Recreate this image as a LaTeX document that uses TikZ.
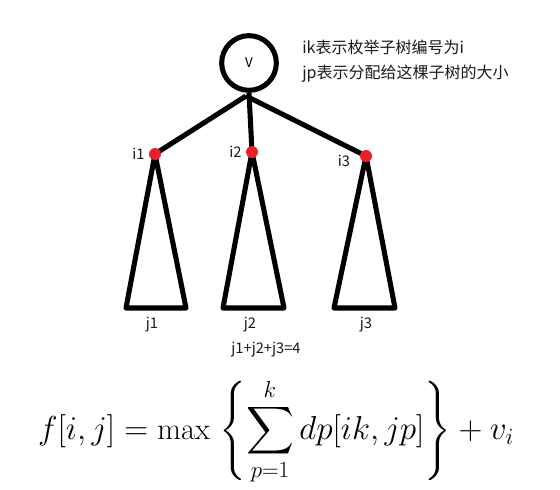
\documentclass[tikz,border=0pt]{standalone}
\usepackage{amsmath}
\usepackage{fontspec}
\newfontfamily\cjk{Noto Sans CJK SC}
\usepackage{tikz}
\usetikzlibrary{positioning,calc}
\definecolor{cdot}{HTML}{E8202A}
\definecolor{ctxt}{HTML}{1A1A1A}
\tikzset{
  root/.style={circle, draw=black, line width=3.8pt, minimum size=41pt, inner sep=0pt, font=\cjk\normalsize},
  edge/.style={line width=3.8pt, draw=black},
  tri/.style={line width=3.8pt, draw=black, line join=round},
  knot/.style={circle, fill=cdot, minimum size=9pt, inner sep=0pt},
  lbl/.style={font=\cjk\fontsize{11}{13}\selectfont, text=ctxt, inner sep=1pt},
  note/.style={font=\cjk\fontsize{12}{14}\selectfont, text=ctxt, anchor=west, inner sep=0pt},
}

\begin{document}
\begin{tikzpicture}[x=0.75pt, y=-0.75pt]
  \useasboundingbox (0,0) rectangle (560,489);
  % root and notes
  \node[root] (v) at (249,63) {V};
  \node[note] (nik) at (302,47) {ik表示枚举子树编号为i};
  \node[note] (njp) at (302,74) {jp表示分配给这棵子树的大小};
  % subtree roots
  \coordinate (a1) at (155,154);
  \coordinate (a2) at (252,152);
  \coordinate (a3) at (366,156);
  \coordinate (v0) at (246,96);
  \draw[edge] (v0) -- (a1);
  \draw[edge] (v.south) -- (a2);
  \draw[edge] (v0) -- (a3);
  % subtrees
  \draw[tri] (a1) -- (186,308) -- (126,308) -- cycle;
  \draw[tri] (a2) -- (284,308) -- (223,308) -- cycle;
  \draw[tri] (a3) -- (395,308) -- (334,308) -- cycle;
  \node[knot] (k1) at (a1) {};
  \node[knot] (k2) at (a2) {};
  \node[knot] (k3) at (a3) {};
  \node[lbl, left=2pt of k1] (i1) {i1};
  \node[lbl, left=2pt of k2] (i2) {i2};
  \node[lbl] (i3) at (344,161) {i3};
  \node[lbl] (j1) at (152,325) {j1};
  \node[lbl] (j2) at (250,325) {j2};
  \node[lbl] (j3) at (366,325) {j3};
  \node[lbl] (sum) at (266,350) {j1+j2+j3=4};
  % recurrence
  \node[font=\fontsize{23}{27}\selectfont, inner sep=0pt] (eq) at (276,432)
    {$\displaystyle f[i,j]=\max\;\Biggl\{\sum_{p=1}^{k}dp[ik,jp]\Biggr\}+v_i$};
\end{tikzpicture}
\end{document}
